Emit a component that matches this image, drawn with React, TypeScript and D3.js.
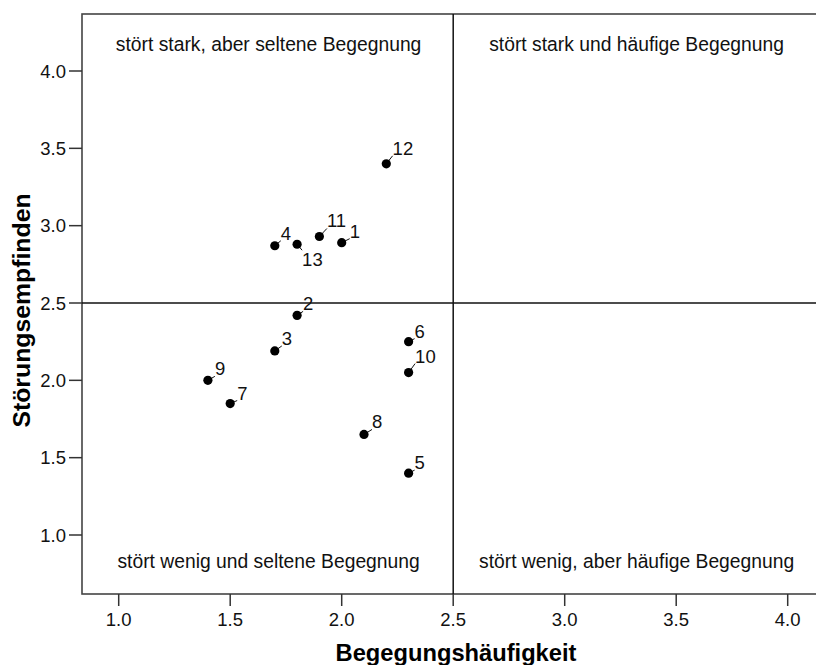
import React from "react";
import * as d3 from "d3";

const ids = [1, 2, 3, 4, 5, 6, 7, 8, 9, 10, 11, 12, 13];
const haeufigkeit = [2.0, 1.8, 1.7, 1.7, 2.3, 2.3, 1.5, 2.1, 1.4, 2.3, 1.9, 2.2, 1.8];
const stoerung = [2.89, 2.42, 2.19, 2.87, 1.4, 2.25, 1.85, 1.65, 2.0, 2.05, 2.93, 3.4, 2.88];
// label placement offsets (dx, dy to baseline) in pixels
const labelDx = [8, 6, 7, 6, 6, 6, 7, 8, 7, 6.5, 7.5, 6.3, 5];
const labelDy = [-5, -5, -6, -6, -4, -4, -4, -6, -5, -10, -9, -9, 22];

const xTicks = [1.0, 1.5, 2.0, 2.5, 3.0, 3.5, 4.0];
const yTicks = [1.0, 1.5, 2.0, 2.5, 3.0, 3.5, 4.0];
const quadrantTexts = [
  { text: "stört stark, aber seltene Begegnung", side: "left", pos: "top" },
  { text: "stört stark und häufige Begegnung", side: "right", pos: "top" },
  { text: "stört wenig und seltene Begegnung", side: "left", pos: "bottom" },
  { text: "stört wenig, aber häufige Begegnung", side: "right", pos: "bottom" },
];
const xTitle = "Begegungshäufigkeit";
const yTitle = "Störungsempfinden";
const mid = 2.5;

const W = 816;
const H = 665;
const left = 82;
const right = 824;
const top = 14;
const bottom = 594;
const font = "'Liberation Sans', Arial, Helvetica, sans-serif";

export default function App() {
  const x = d3.scaleLinear().domain([1.0, 4.0]).range([118.7, 787.7]);
  const y = d3.scaleLinear().domain([1.0, 4.0]).range([535, 71]);
  const fmt = d3.format(".1f");
  const xm = x(mid);
  const ym = y(mid);

  return (
    <svg
      width={W}
      height={H}
      style={{ position: "absolute", left: 0, top: 0, background: "#fff" }}
      fontFamily={font}
    >
      {/* frame */}
      <rect x={left} y={top} width={right - left} height={bottom - top} fill="none" stroke="#444" strokeWidth={1.6} />
      {/* quadrant lines */}
      <line x1={left} x2={right} y1={ym} y2={ym} stroke="#111" strokeWidth={1.5} />
      <line x1={xm} x2={xm} y1={top} y2={bottom} stroke="#111" strokeWidth={1.5} />

      {/* x axis */}
      {xTicks.map((t) => (
        <g key={"xt" + t}>
          <line x1={x(t)} x2={x(t)} y1={bottom} y2={bottom + 12} stroke="#333" strokeWidth={1.5} />
          <text x={x(t)} y={626} textAnchor="middle" fontSize={18.5} fill="#111">
            {fmt(t)}
          </text>
        </g>
      ))}
      {/* y axis */}
      {yTicks.map((t) => (
        <g key={"yt" + t}>
          <line x1={left - 13} x2={left} y1={y(t)} y2={y(t)} stroke="#333" strokeWidth={1.5} />
          <text x={66} y={y(t) + 6.5} textAnchor="end" fontSize={18.5} fill="#111">
            {fmt(t)}
          </text>
        </g>
      ))}

      {/* quadrant texts */}
      {quadrantTexts.map((q) => (
        <text
          key={q.text}
          x={q.side === "left" ? (left + xm) / 2 + 1 : (xm + right) / 2 - 2}
          y={q.pos === "top" ? 51 : 568}
          textAnchor="middle"
          fontSize={19.3}
          fill="#111"
        >
          {q.text}
        </text>
      ))}

      {/* points */}
      {ids.map((id, i) => {
        const px = x(haeufigkeit[i]);
        const py = y(stoerung[i]);
        const dx = labelDx[i];
        const dy = labelDy[i];
        const ex = px + dx;
        const ey = dy > 0 ? py + dy - 16 : py + dy + 1;
        return (
          <g key={"p" + id}>
            <line x1={px} y1={py} x2={ex} y2={ey} stroke="#111" strokeWidth={1} />
            <circle cx={px} cy={py} r={4.6} fill="#000" />
            <text x={px + dx} y={py + dy} fontSize={18.5} fill="#111">
              {id}
            </text>
          </g>
        );
      })}

      {/* titles */}
      <text x={456} y={661} textAnchor="middle" fontSize={23.7} fontWeight="bold" fill="#000">
        {xTitle}
      </text>
      <text
        transform={`translate(30, 310.5) rotate(-90)`}
        textAnchor="middle"
        fontSize={24.8}
        fontWeight="bold"
        fill="#000"
      >
        {yTitle}
      </text>
    </svg>
  );
}
